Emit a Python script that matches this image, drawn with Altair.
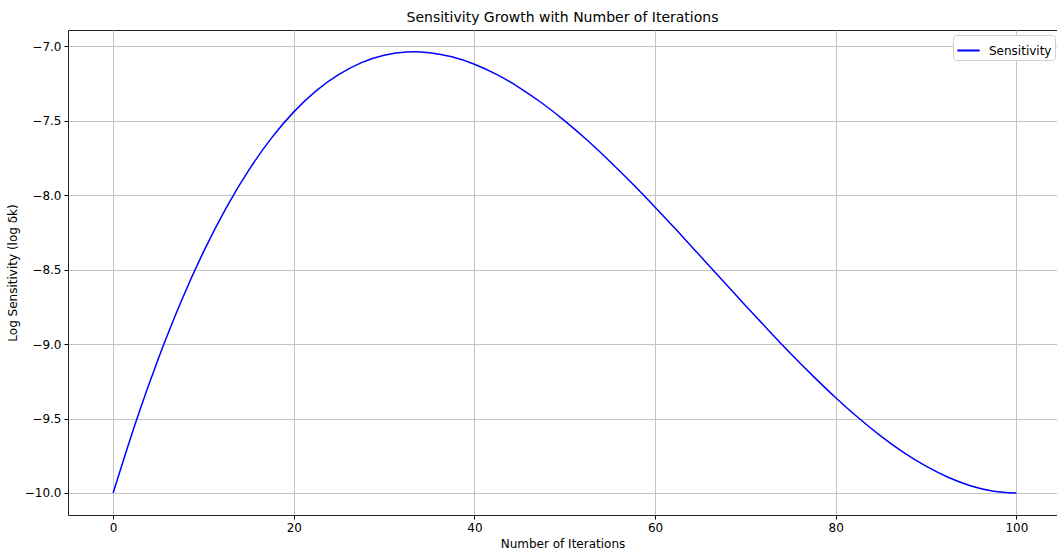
import altair as alt
import pandas as pd

iterations = [0, 2.5, 5, 7.5, 10, 12.5, 15, 17.5, 20, 22.5, 25, 27.5, 30, 32.5, 35, 37.5,
              40, 42.5, 45, 47.5, 50, 52.5, 55, 57.5, 60, 62.5, 65, 67.5, 70, 72.5, 75,
              77.5, 80, 82.5, 85, 87.5, 90, 92.5, 95, 97.5, 100]
log_sensitivity = [-10.0, -9.525, -9.098, -8.717, -8.38, -8.086, -7.833, -7.618, -7.44,
                   -7.297, -7.188, -7.109, -7.06, -7.038, -7.043, -7.07, -7.12, -7.19,
                   -7.278, -7.382, -7.5, -7.631, -7.773, -7.923, -8.08, -8.242, -8.408,
                   -8.574, -8.74, -8.903, -9.063, -9.215, -9.36, -9.495, -9.618, -9.727,
                   -9.82, -9.896, -9.953, -9.988, -10.0]
series_name = ["Sensitivity"]
x_ticks = [0, 20, 40, 60, 80, 100]
y_ticks = [-10.0, -9.5, -9.0, -8.5, -8.0, -7.5, -7.0]

df = pd.DataFrame({
    "iter": iterations,
    "val": log_sensitivity,
    "series": series_name * len(iterations),
})

FONT = "DejaVu Sans"

chart = alt.Chart(df).mark_line(strokeWidth=1.5, interpolate="natural").encode(
    x=alt.X("iter:Q",
            scale=alt.Scale(domain=[-5, 104.5], nice=False, zero=False),
            axis=alt.Axis(values=x_ticks, title="Number of Iterations",
                          labelExpr="replace(format(datum.value, 'd'), '-', '\u2212')")),
    y=alt.Y("val:Q",
            scale=alt.Scale(domain=[-10.148, -6.89], nice=False, zero=False),
            axis=alt.Axis(values=y_ticks, title="Log Sensitivity (log \u03b4k)",
                          labelExpr="replace(format(datum.value, '.1f'), '-', '\u2212')")),
    color=alt.Color("series:N",
                    scale=alt.Scale(domain=series_name, range=["#0000ff"]),
                    legend=alt.Legend(title=None, orient="none", legendX=885, legendY=5,
                                      symbolType="stroke", symbolStrokeWidth=2,
                                      symbolSize=500, labelFontSize=12, labelFont=FONT,
                                      labelColor="#000", strokeColor="#d0d0d0",
                                      fillColor="white", padding=3, cornerRadius=3,
                                      labelOffset=8)),
).properties(
    width=989,
    height=485,
    title=alt.TitleParams("Sensitivity Growth with Number of Iterations",
                          font=FONT, fontSize=14, fontWeight="normal", color="#000",
                          anchor="middle", offset=5),
    autosize=alt.AutoSizeParams(type="none"),
    padding={"left": 68, "top": 30, "right": 0, "bottom": 38},
).configure_view(
    stroke="#222", strokeWidth=1
).configure_axis(
    labelFont=FONT, labelFontSize=12, labelColor="#000",
    titleFont=FONT, titleFontSize=12, titleColor="#000", titleFontWeight="normal",
    grid=True, gridColor="#c4c4c4", gridWidth=1,
    domain=False, tickColor="#000", tickSize=4, labelPadding=3, titlePadding=5,
)

chart.save("out.html", embed_options={"renderer": "svg", "actions": False})
